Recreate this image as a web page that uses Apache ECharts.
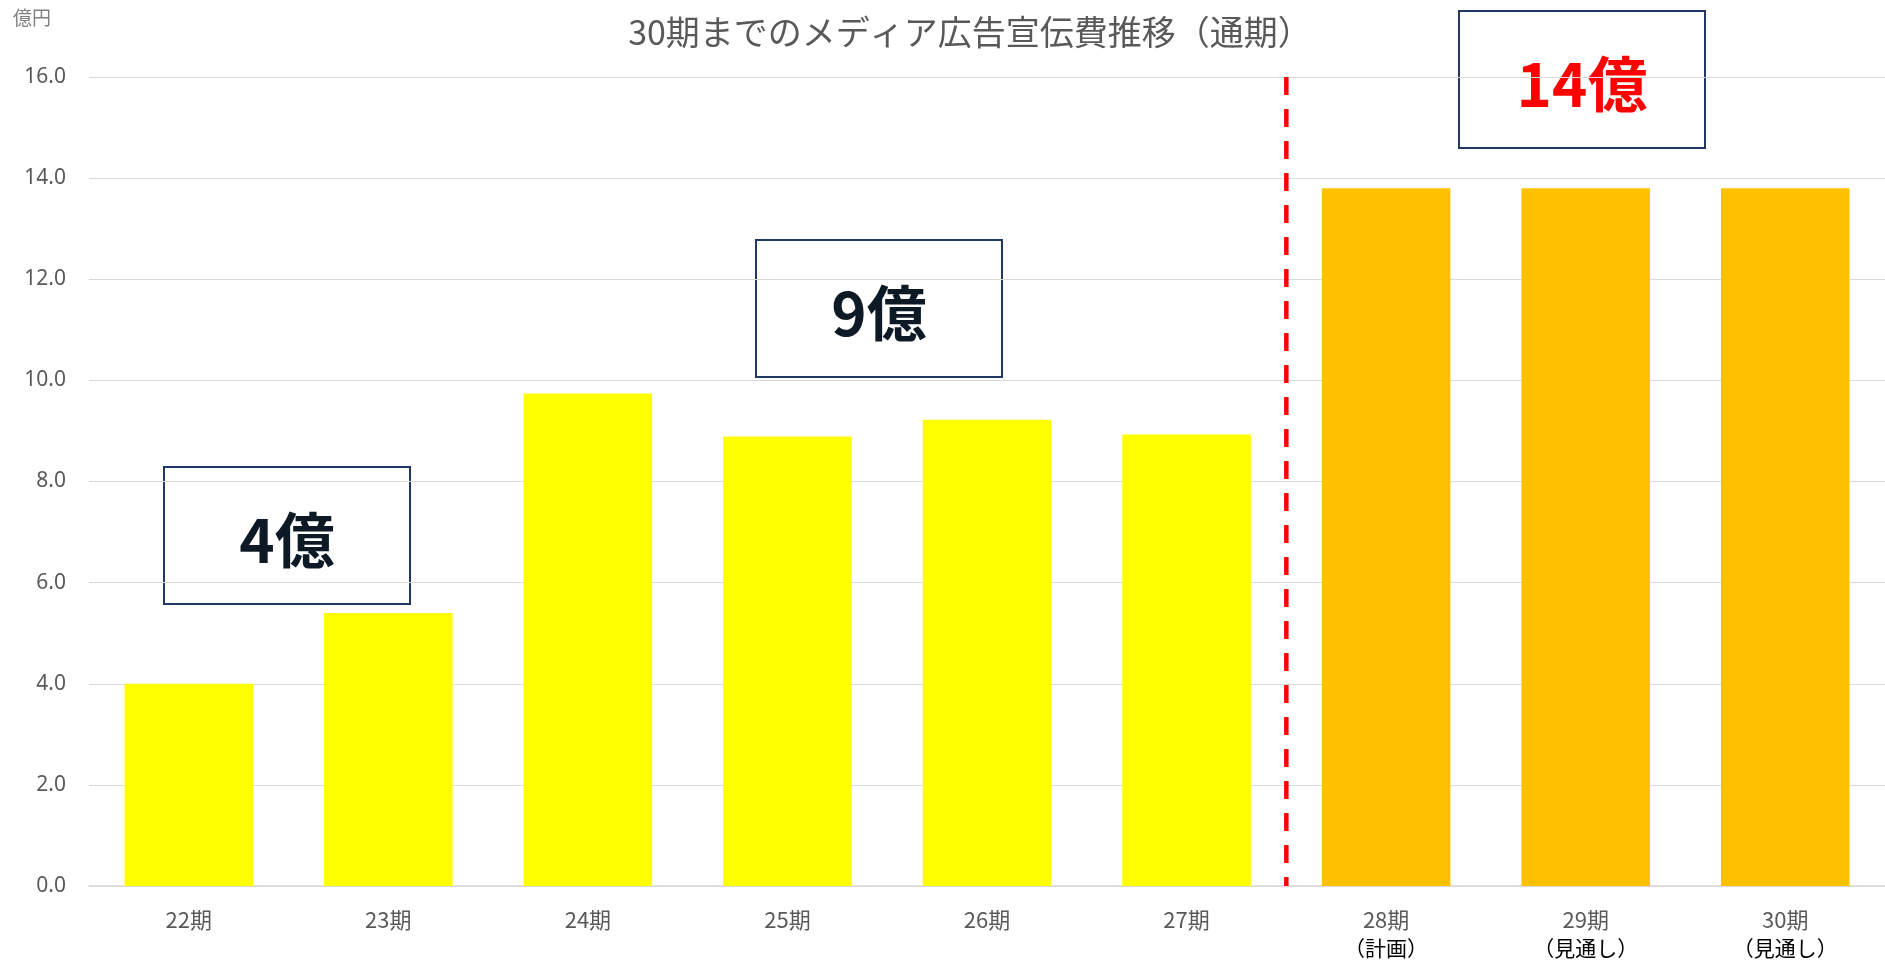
<!DOCTYPE html>
<html lang="ja">
<head>
<meta charset="utf-8">
<title>30期までのメディア広告宣伝費推移（通期）</title>
<script src="https://cdn.jsdelivr.net/npm/echarts@6/dist/echarts.min.js"></script>
<style>
  html, body { margin: 0; padding: 0; background: #ffffff; }
  #chart { width: 1885px; height: 963px; }
</style>
</head>
<body>
<div id="chart"></div>
<script>
// Fiscal periods and their second-line notes
const periods = ['22期', '23期', '24期', '25期', '26期', '27期', '28期', '29期', '30期'];
const periodNotes = ['', '', '', '', '', '', '（計画）', '（見通し）', '（見通し）'];
// Media advertising spend, 億円
const adSpend = [4.0, 5.4, 9.74, 8.89, 9.22, 8.93, 13.8, 13.8, 13.8];
// true = plan / outlook period
const isOutlook = [false, false, false, false, false, false, true, true, true];
// Y axis ticks
const yTicks = [0, 2, 4, 6, 8, 10, 12, 14, 16];
// Boundary between results and plan (category index on a 0..9 scale)
const dividerAt = [6];
// Callout texts
const callouts = ['4億', '9億', '14億'];

const FONT = '"Noto Sans CJK JP", "Noto Sans", sans-serif';

const chart = echarts.init(document.getElementById('chart'), null, { renderer: 'canvas' });

const barData = adSpend.map((v, i) => ({
  value: v,
  itemStyle: { color: isOutlook[i] ? '#FFC000' : '#FFFF00' }
}));

function calloutBox(left, top, text, color) {
  const w = 246, h = 137;
  return {
    type: 'group',
    left: left,
    top: top,
    children: [
      {
        type: 'rect',
        shape: { x: 0, y: 0, width: w, height: h },
        style: { fill: '#ffffff', stroke: '#1F3864', lineWidth: 2 }
      },
      {
        type: 'text',
        x: w / 2,
        y: h / 2 + 5,
        style: {
          text: text,
          fill: color,
          font: 'bold 60px ' + FONT,
          align: 'center',
          verticalAlign: 'middle'
        }
      }
    ]
  };
}

const option = {
  animation: false,
  backgroundColor: '#ffffff',
  grid: { left: 89, width: 1799, top: 77, bottom: 77, containLabel: false },
  xAxis: [
    {
      type: 'category',
      data: periods,
      axisTick: { show: false },
      axisLine: { lineStyle: { color: '#d9d9d9', width: 1.5 } },
      axisLabel: {
        margin: 20,
        interval: 0,
        formatter: (value, idx) => periodNotes[idx]
          ? '{a|' + value + '}\n{b|' + periodNotes[idx] + '}'
          : '{a|' + value + '}',
        rich: {
          a: { fontSize: 22, color: '#595959', lineHeight: 28, fontFamily: FONT },
          b: { fontSize: 21, color: '#000000', lineHeight: 28, fontFamily: FONT }
        }
      }
    },
    {
      type: 'value',
      min: 0,
      max: periods.length,
      show: false
    }
  ],
  yAxis: {
    type: 'value',
    min: yTicks[0],
    max: yTicks[yTicks.length - 1],
    interval: yTicks[1] - yTicks[0],
    axisLine: { show: false },
    axisTick: { show: false },
    splitLine: { lineStyle: { color: '#d9d9d9', width: 1.2 } },
    axisLabel: {
      margin: 23,
      fontSize: 21,
      color: '#595959',
      fontFamily: '"Noto Sans", sans-serif',
      formatter: v => v.toFixed(1)
    }
  },
  series: [
    {
      type: 'bar',
      data: barData,
      barCategoryGap: '35.6%',
      xAxisIndex: 0
    },
    {
      type: 'line',
      xAxisIndex: 1,
      data: [[dividerAt[0], yTicks[yTicks.length - 1]], [dividerAt[0], yTicks[0]]],
      symbol: 'none',
      silent: true,
      lineStyle: { color: '#FF0000', width: 4.5, type: [18, 14] },
      z: 5
    }
  ],
  graphic: [
    {
      type: 'text',
      x: 970,
      y: 32,
      style: {
        text: '30期までのメディア広告宣伝費推移（通期）',
        fill: '#595959',
        font: '34px ' + FONT,
        align: 'center',
        verticalAlign: 'middle'
      }
    },
    {
      type: 'text',
      x: 13,
      y: 18,
      style: {
        text: '億円',
        fill: '#808080',
        font: '19px ' + FONT,
        align: 'left',
        verticalAlign: 'middle'
      }
    },
    calloutBox(163, 466, callouts[0], '#0D1A26'),
    calloutBox(755, 239, callouts[1], '#0D1A26'),
    calloutBox(1458, 10, callouts[2], '#FF0000')
  ]
};

chart.setOption(option);
</script>
</body>
</html>
